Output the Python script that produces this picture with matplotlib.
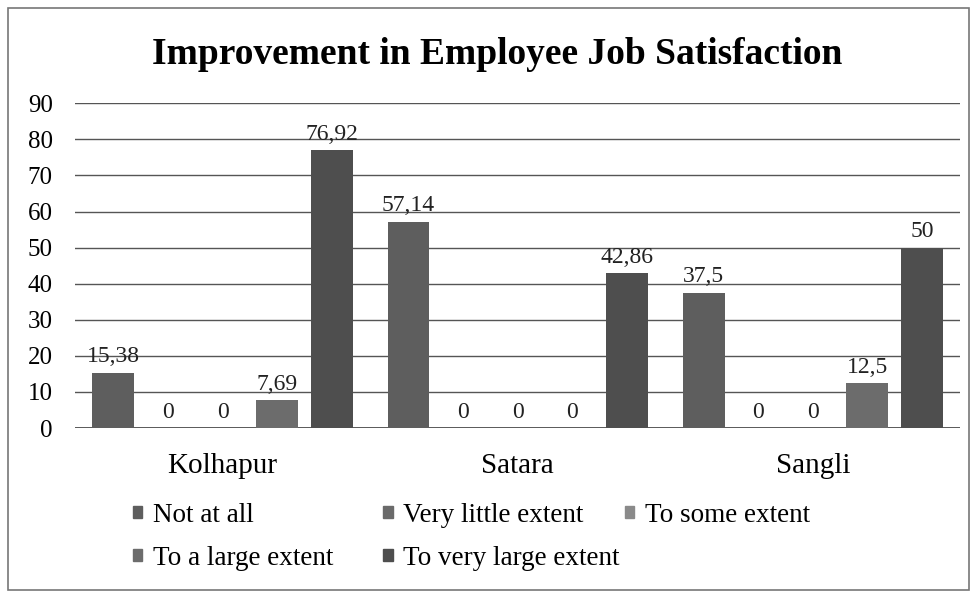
import numpy as np
import matplotlib
matplotlib.use("Agg")
import matplotlib.pyplot as plt
from matplotlib.patches import Rectangle, Patch

districts = ["Kolhapur", "Satara", "Sangli"]
levels = ["Not at all", "Very little extent", "To some extent",
          "To a large extent", "To very large extent"]
not_at_all = [15.38, 57.14, 37.5]
very_little = [0, 0, 0]
some_extent = [0, 0, 0]
large_extent = [7.69, 0, 12.5]
very_large = [76.92, 42.86, 50]
series = [not_at_all, very_little, some_extent, large_extent, very_large]
colors = ["#5e5e5e", "#6a6a6a", "#8a8a8a", "#6c6c6c", "#4e4e4e"]

plt.rcParams["font.family"] = ["Liberation Serif", "DejaVu Serif"]

fig = plt.figure(figsize=(9.75, 5.97), dpi=100)
fig.patch.set_facecolor("white")
ax = fig.add_axes([0.077, 0.283, 0.908, 0.544])

x = np.arange(len(districts))
slot = 0.185
width = 0.142
for i, (vals, c) in enumerate(zip(series, colors)):
    pos = x + (i - 2) * slot
    bars = ax.bar(pos, vals, width, color=c, label=levels[i], zorder=3)
    for b, v in zip(bars, vals):
        txt = f"{v:g}".replace(".", ",")
        ax.text(b.get_x() + b.get_width() / 2, v + 1.5, txt,
                ha="center", va="bottom", fontsize=17, color="#222222", zorder=4)

ax.set_xlim(-0.5, 2.5)
ax.set_ylim(0, 90)
ax.set_yticks(range(0, 91, 10))
ax.tick_params(axis="y", length=0, labelsize=18, pad=16)
ax.tick_params(axis="x", length=0, labelsize=21, pad=18)
ax.set_xticks(x)
ax.set_xticklabels(districts)
ax.grid(axis="y", color="#555555", linewidth=1.0, zorder=0)
for s in ax.spines.values():
    s.set_visible(False)
ax.axhline(0, color="#444444", linewidth=1.2, zorder=2)

fig.text(0.51, 0.908, "Improvement in Employee Job Satisfaction",
         ha="center", va="center", fontsize=27, fontweight="bold")

# legend entries placed like the flowing Excel legend
leg_pos = [(0.136, 0.137), (0.393, 0.137), (0.641, 0.137),
           (0.136, 0.065), (0.393, 0.065)]
for lab, c, (lx, ly) in zip(levels, colors, leg_pos):
    fig.legend(handles=[Patch(color=c)], labels=[lab], loc="center left",
               bbox_to_anchor=(lx, ly), frameon=False, fontsize=19.5,
               handlelength=0.35, handleheight=0.35, handletextpad=0.4,
               borderpad=0, borderaxespad=0)

fig.add_artist(Rectangle((0.008, 0.012), 0.986, 0.975, transform=fig.transFigure,
                         fill=False, edgecolor="#777777", linewidth=1.2))

fig.savefig("out.png", dpi=100)
